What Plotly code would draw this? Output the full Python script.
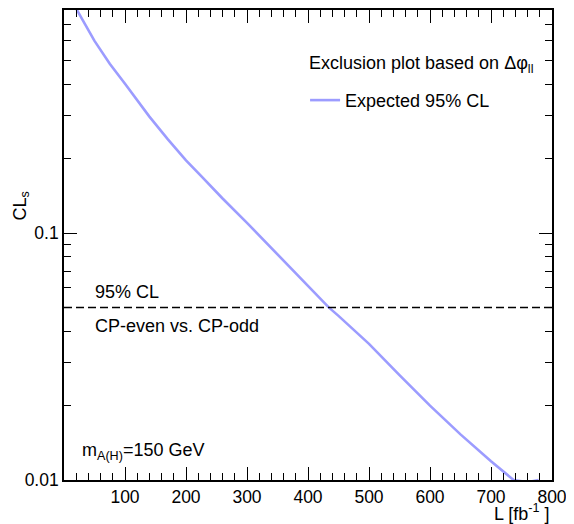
import math
import plotly.graph_objects as go

# ---- data ----
lumi = [10, 20, 50, 75, 100, 140, 170, 200, 225, 260, 300, 350, 400, 434,
        450, 500, 550, 600, 650, 700, 737, 760, 778]
cls_expected = [0.90, 0.81, 0.60, 0.485, 0.402, 0.296, 0.240, 0.197, 0.170,
                0.138, 0.110, 0.0817, 0.061, 0.050, 0.0462, 0.0356, 0.0266,
                0.020, 0.0153, 0.0119, 0.0100, 0.0098, 0.0100]
cl_level = 0.05
x_limits = [0, 800]
y_limits = [0.01, 0.8]
x_tick_vals = [100, 200, 300, 400, 500, 600, 700, 800]
y_tick_vals = [0.01, 0.1]
y_tick_text = ["0.01", "0.1"]
y_minor_vals = [0.02, 0.03, 0.04, 0.05, 0.06, 0.07, 0.08, 0.09,
                0.2, 0.3, 0.4, 0.5, 0.6, 0.7, 0.8]

FONT = "Liberation Sans, Arial, sans-serif"

fig = go.Figure()
fig.add_trace(go.Scatter(
    x=lumi, y=cls_expected, mode="lines", name="Expected 95% CL",
    line=dict(color="#9c9cff", width=2.6), showlegend=True))
fig.add_trace(go.Scatter(
    x=x_limits, y=[cl_level, cl_level], mode="lines", showlegend=False,
    line=dict(color="black", width=1.5, dash="8px,4px"), hoverinfo="skip"))

# the page body adds an 8px margin; the figure is sized to compensate
fig.update_layout(
    width=566, height=516,
    margin=dict(l=56, r=22, t=0, b=44),
    paper_bgcolor="white", plot_bgcolor="white",
    font=dict(family=FONT, size=18, color="black"),
    showlegend=True,
    legend=dict(x=0.494, xanchor="left", y=0.847, yanchor="top",
                bgcolor="rgba(0,0,0,0)", font=dict(size=18, family=FONT)),
)
fig.update_xaxes(
    range=x_limits, showgrid=False, zeroline=False,
    showline=True, linecolor="black", linewidth=1.6, mirror="allticks",
    ticks="inside", ticklen=13, tickwidth=1.2, tickcolor="black",
    tickmode="array", tickvals=x_tick_vals,
    tickfont=dict(size=17.5, family=FONT),
    minor=dict(ticks="inside", ticklen=7, tickwidth=1.2, tickcolor="black",
               dtick=20, tick0=0, showgrid=False),
)
fig.update_yaxes(
    type="log", range=[math.log10(y_limits[0]), math.log10(y_limits[1])],
    showgrid=False, zeroline=False,
    showline=True, linecolor="black", linewidth=1.6, mirror="allticks",
    ticks="inside", ticklen=13, tickwidth=1.2, tickcolor="black",
    tickmode="array", tickvals=y_tick_vals, ticktext=y_tick_text,
    tickfont=dict(size=17.5, family=FONT),
    minor=dict(ticks="inside", ticklen=7, tickwidth=1.2, tickcolor="black",
               tickmode="array", tickvals=y_minor_vals, showgrid=False),
)

ann = dict(xref="paper", yref="paper", showarrow=False,
           font=dict(size=18, family=FONT, color="black"))
fig.add_annotation(text="Exclusion plot based on \u0394\u03c6<sub>ll</sub>",
                   x=0.498, y=0.885, xanchor="left", yanchor="middle", **ann)
fig.add_annotation(text="95% CL", x=0.060, y=0.400,
                   xanchor="left", yanchor="middle", **ann)
fig.add_annotation(text="CP-even vs. CP-odd", x=0.060, y=0.328,
                   xanchor="left", yanchor="middle", **ann)
fig.add_annotation(text="m<sub>A(H)</sub>=150 GeV", x=0.032, y=0.06,
                   xanchor="left", yanchor="middle", **ann)
fig.add_annotation(text="L [fb<sup>-1</sup> ]", x=1.0, y=-0.069,
                   xanchor="right", yanchor="middle", **ann)
fig.add_annotation(text="CL<sub>s</sub>", x=-0.087, y=0.583, textangle=-90,
                   xanchor="center", yanchor="middle", **ann)

fig.write_html("out.html")
